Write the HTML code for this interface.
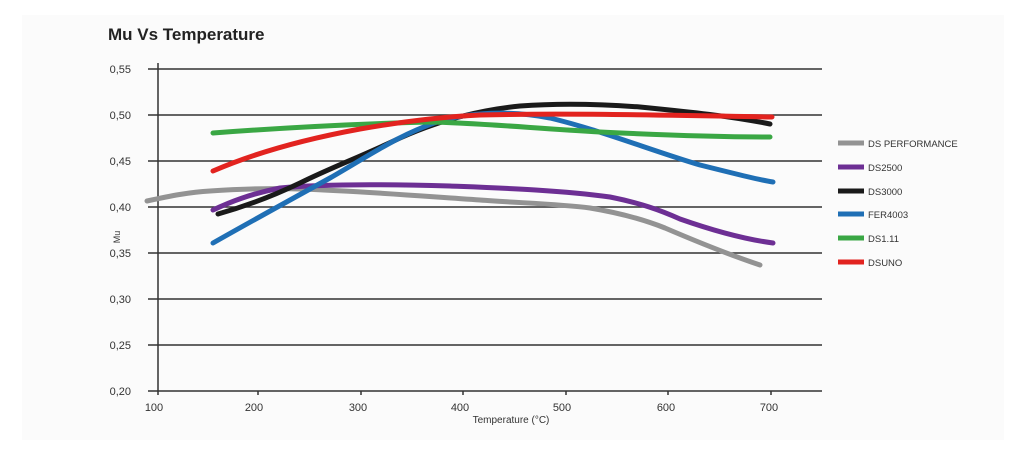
<!DOCTYPE html>
<html><head><meta charset="utf-8"><style>
html,body{margin:0;padding:0;background:#fff;}
svg{display:block;font-family:"Liberation Sans",Arial,sans-serif;}
</style></head><body>
<svg width="1024" height="451" viewBox="0 0 1024 451">
<rect x="0" y="0" width="1024" height="451" fill="#fff"/>
<rect x="22" y="15" width="982" height="425" fill="#fbfbfb"/>
<text x="108" y="40" font-size="17" font-weight="bold" fill="#222">Mu Vs Temperature</text>
<g stroke="#333" stroke-width="1.5">
<line x1="148" y1="69" x2="822" y2="69"/>
<line x1="148" y1="115" x2="822" y2="115"/>
<line x1="148" y1="161" x2="822" y2="161"/>
<line x1="148" y1="207" x2="822" y2="207"/>
<line x1="148" y1="253" x2="822" y2="253"/>
<line x1="148" y1="299" x2="822" y2="299"/>
<line x1="148" y1="345" x2="822" y2="345"/>
<line x1="148" y1="391" x2="822" y2="391"/>
<line x1="158" y1="63" x2="158" y2="395"/>
<line x1="258" y1="391" x2="258" y2="395"/>
<line x1="361" y1="391" x2="361" y2="395"/>
<line x1="463" y1="391" x2="463" y2="395"/>
<line x1="566" y1="391" x2="566" y2="395"/>
<line x1="668" y1="391" x2="668" y2="395"/>
<line x1="771" y1="391" x2="771" y2="395"/>
</g>
<g font-size="11" fill="#333" text-anchor="end">
<text x="131" y="73">0,55</text><text x="131" y="119">0,50</text><text x="131" y="165">0,45</text><text x="131" y="211">0,40</text>
<text x="131" y="257">0,35</text><text x="131" y="303">0,30</text><text x="131" y="349">0,25</text><text x="131" y="395">0,20</text>
</g>
<g font-size="11" fill="#333" text-anchor="middle">
<text x="154" y="411">100</text><text x="254" y="411">200</text><text x="358" y="411">300</text><text x="460" y="411">400</text>
<text x="562" y="411">500</text><text x="666" y="411">600</text><text x="769" y="411">700</text>
</g>
<text x="511" y="423" font-size="10" fill="#333" text-anchor="middle">Temperature (°C)</text>
<text x="120" y="237" font-size="9" fill="#333" transform="rotate(-90 120 237)" text-anchor="middle">Mu</text>
<g fill="none" stroke-width="5" stroke-linecap="round" stroke-linejoin="round">
<path stroke="#939393" d="M147,201 C170,196 190,192 210,191 C240,189 270,188 300,189 C360,191 420,196 480,200 C520,203 560,204 590,208 C620,213 645,220 665,228 C700,243 730,255 760,265"/>
<path stroke="#6d2f94" d="M213,210 C230,202 250,194 280,188 C320,184 380,184 450,186 C500,188 560,190 610,197 C640,203 660,210 680,219 C720,233 750,240 773,243"/>
<path stroke="#1a1a1a" d="M218,214 C250,205 275,195 300,183 C330,168 360,157 400,138 C440,120 480,110 520,106 C560,103 600,104 640,107 C690,112 730,116 770,124"/>
<path stroke="#1f6fb5" d="M213,243 C250,222 290,200 330,178 C370,155 400,134 440,121 C480,110 520,112 550,118 C600,130 650,150 700,165 C740,175 760,180 773,182"/>
<path stroke="#3aa744" d="M213,133 C280,128 350,124 430,122 C480,123 530,128 600,132 C660,135 720,137 770,137"/>
<path stroke="#e2231f" d="M213,171 C250,155 300,140 360,129 C400,122 440,117 480,115 C560,113 660,115 772,117"/>
</g>
<g stroke-width="5">
<line x1="838" y1="143" x2="864" y2="143" stroke="#939393"/>
<line x1="838" y1="167" x2="864" y2="167" stroke="#6d2f94"/>
<line x1="838" y1="191" x2="864" y2="191" stroke="#1a1a1a"/>
<line x1="838" y1="214" x2="864" y2="214" stroke="#1f6fb5"/>
<line x1="838" y1="238" x2="864" y2="238" stroke="#3aa744"/>
<line x1="838" y1="262" x2="864" y2="262" stroke="#e2231f"/>
</g>
<g font-size="9.5" fill="#333">
<text x="868" y="147">DS PERFORMANCE</text><text x="868" y="171">DS2500</text><text x="868" y="195">DS3000</text>
<text x="868" y="218">FER4003</text><text x="868" y="242">DS1.11</text><text x="868" y="266">DSUNO</text>
</g>
</svg>
</body></html>
